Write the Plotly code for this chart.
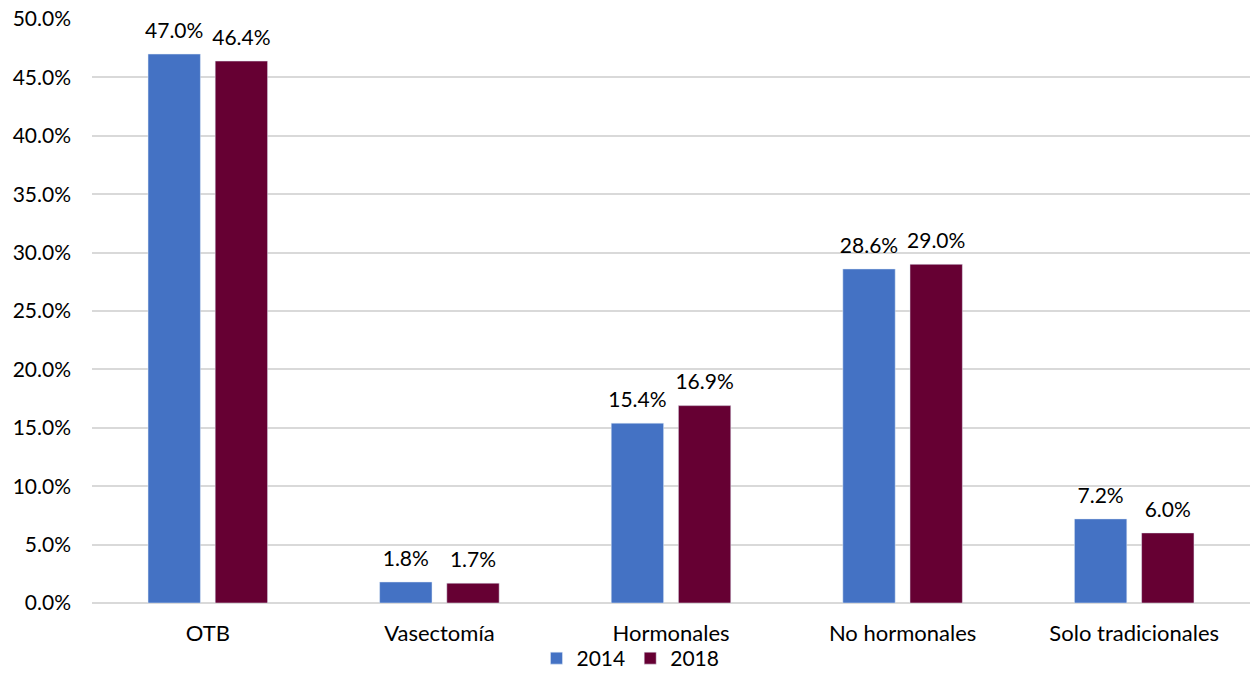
import plotly.graph_objects as go

categories = ["OTB", "Vasectomía", "Hormonales", "No hormonales", "Solo tradicionales"]
v2014 = [47.0, 1.8, 15.4, 28.6, 7.2]
v2018 = [46.4, 1.7, 16.9, 29.0, 6.0]
ytick_vals = [0, 5, 10, 15, 20, 25, 30, 35, 40, 45, 50]

FONT = "Lato, Carlito, 'Open Sans', sans-serif"
FS = 21
GAP = 0.42

fig = go.Figure()
for name, vals, color in [("2014", v2014, "#4472C4"), ("2018", v2018, "#660033")]:
    fig.add_trace(go.Bar(name=name, x=categories, y=vals, marker_color=color,
                         offsetgroup=name, alignmentgroup="a", legendgroup=name))
for name, vals in [("2014", v2014), ("2018", v2018)]:
    fig.add_trace(go.Scatter(x=categories, y=vals, mode="markers+text",
                             text=[f"{v:.1f}%" for v in vals], textposition="top center",
                             textfont=dict(size=FS, color="#000"),
                             marker=dict(size=16, opacity=0), showlegend=False,
                             offsetgroup=name, alignmentgroup="s",
                             hoverinfo="skip", cliponaxis=False, legendgroup=name))

fig.update_layout(
    width=1251, height=700,
    margin=dict(l=92, r=1, t=19, b=97, autoexpand=False),
    paper_bgcolor="white", plot_bgcolor="white",
    font=dict(family=FONT, size=FS, color="#000"),
    barmode="group", bargap=GAP, bargroupgap=0.22,
    scattermode="group", scattergap=GAP,
    showlegend=True,
    legend=dict(orientation="h", x=0.465, xanchor="center", y=-0.095, yanchor="middle",
                font=dict(size=21), traceorder="normal", bgcolor="rgba(0,0,0,0)"),
    xaxis=dict(showline=False, ticks="", tickfont=dict(size=22), ticklabelstandoff=15,
               automargin=False),
    yaxis=dict(range=[0, 50], tickvals=ytick_vals,
               ticktext=[f"{v:.1f}%" for v in ytick_vals],
               showgrid=True, gridcolor="#D9D9D9", gridwidth=1.5,
               zeroline=True, zerolinecolor="#D9D9D9", zerolinewidth=1.5,
               showline=False, ticks="", tickfont=dict(size=FS), ticklabelstandoff=20,
               automargin=False),
)
fig.write_html("out.html", post_script="document.body.style.margin='0';",
               config={"displayModeBar": False})
